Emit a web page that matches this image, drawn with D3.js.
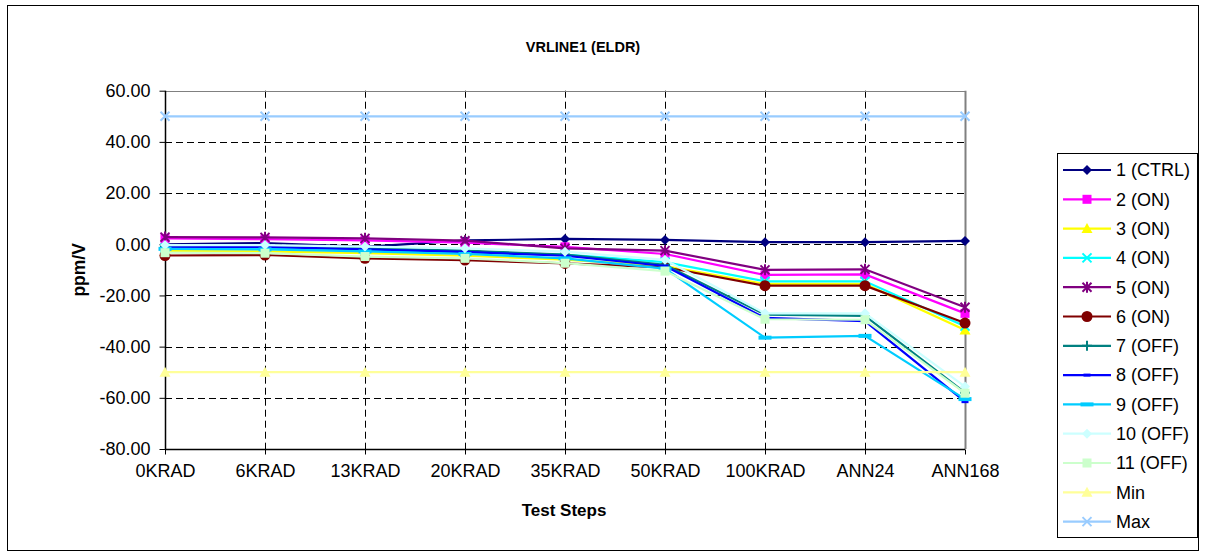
<!DOCTYPE html>
<html><head><meta charset="utf-8">
<script src="https://cdn.jsdelivr.net/npm/d3@7"></script>
<style>
html,body{margin:0;padding:0;background:#fff;}
text{font-family:"Liberation Sans",Arial,sans-serif;}
</style></head>
<body><svg id="chart" width="1206" height="558"></svg>
<script>
const categories = ["0KRAD","6KRAD","13KRAD","20KRAD","35KRAD","50KRAD","100KRAD","ANN24","ANN168"];
const yTicks = [60,40,20,0,-20,-40,-60,-80];
const seriesNames = ["1 (CTRL)","2 (ON)","3 (ON)","4 (ON)","5 (ON)","6 (ON)","7 (OFF)","8 (OFF)","9 (OFF)","10 (OFF)","11 (OFF)","Min","Max"];
const s1  = [0.0, 0.5, -1.0, 1.5, 2.1, 1.7, 0.8, 0.8, 1.3];
const s2  = [2.3, 2.0, 1.5, 0.6, -1.0, -3.8, -12.0, -11.8, -27.0];
const s3  = [-2.7, -2.8, -3.5, -4.5, -6.0, -8.5, -15.5, -15.5, -33.5];
const s4  = [-1.5, -1.5, -2.2, -3.2, -4.0, -7.0, -14.5, -14.5, -32.0];
const s5  = [2.8, 2.7, 2.3, 1.4, -1.6, -2.5, -10.0, -9.8, -24.6];
const s6  = [-4.4, -4.2, -5.5, -6.2, -7.5, -9.0, -16.2, -16.2, -30.8];
const s7  = [-0.8, -0.5, -1.5, -2.5, -4.0, -8.0, -27.5, -28.0, -58.0];
const s8  = [-1.2, -1.0, -2.0, -3.0, -4.5, -8.5, -28.8, -30.0, -61.5];
const s9  = [-1.8, -2.0, -2.8, -3.8, -5.5, -9.5, -36.5, -35.8, -60.5];
const s10 = [-0.3, -0.3, -0.9, -1.6, -2.9, -6.1, -27.0, -27.0, -55.6];
const s11 = [-3.3, -3.5, -4.8, -5.5, -7.4, -10.5, -29.3, -29.5, -58.2];
const sMin = [-50, -50, -50, -50, -50, -50, -50, -50, -50];
const sMax = [50, 50, 50, 50, 50, 50, 50, 50, 50];
const seriesValues = [s1,s2,s3,s4,s5,s6,s7,s8,s9,s10,s11,sMin,sMax];
const seriesColors = ["#000080","#FF00FF","#FFFF00","#00FFFF","#800080","#800000","#008080","#0000FF","#00CCFF","#CCFFFF","#CCFFCC","#FFFF99","#99CCFF"];
const seriesMarkers = ["diamond","square","triangle","x","star","circle","plus","dash","bar","diamond","square","triangle","x"];

const svg = d3.select("#chart");
svg.append("rect").attr("x",7.5).attr("y",5.5).attr("width",1191).attr("height",545)
  .attr("fill","#fff").attr("stroke","#000").attr("stroke-width",1);

const L=165, R=965, T=90.7, B=449;
const x = d3.scalePoint().domain(categories).range([L,R]);
const y = d3.scaleLinear().domain([-80,60]).range([B,T]);

// gridlines
const g = svg.append("g");
yTicks.filter(v=>v>-80 && v<60).forEach(v=>{
  g.append("line").attr("x1",L).attr("x2",R).attr("y1",Math.round(y(v))+0.5).attr("y2",Math.round(y(v))+0.5)
   .attr("stroke","#000").attr("stroke-width",1).attr("stroke-dasharray","7,4");
});
categories.slice(1,-1).forEach(c=>{
  g.append("line").attr("x1",Math.round(x(c))+0.5).attr("x2",Math.round(x(c))+0.5).attr("y1",T).attr("y2",B)
   .attr("stroke","#000").attr("stroke-width",1).attr("stroke-dasharray","7,4");
});
// plot frame top/right gray
g.append("line").attr("x1",L).attr("x2",R).attr("y1",Math.round(T)+0.5).attr("y2",Math.round(T)+0.5).attr("stroke","#808080");
g.append("line").attr("x1",R+0.5).attr("x2",R+0.5).attr("y1",T).attr("y2",B).attr("stroke","#808080").attr("stroke-width",2);

// axes
const fmt = d3.format(".2f");
const yAxis = d3.axisLeft(y).tickValues(yTicks).tickSize(6).tickPadding(9).tickFormat(d=>fmt(d).replace("\u2212","-"));
const ya = svg.append("g").attr("transform",`translate(${L+0.5},0)`).call(yAxis);
const xAxis = d3.axisBottom(x).tickSize(5).tickPadding(10);
const xa = svg.append("g").attr("transform",`translate(0,${Math.round(B)+0.5})`).call(xAxis);
[ya,xa].forEach(a=>{
  a.select(".domain").attr("stroke","#000").attr("stroke-width",1.5);
  a.selectAll(".tick line").attr("stroke","#000");
  a.selectAll("text").attr("font-family","Liberation Sans, Arial, sans-serif").attr("font-size",18).attr("fill","#000");
});
xa.select(".domain").attr("d",`M${L},0H${R}`);
ya.select(".domain").attr("d",`M0,${T}V${B}`);

// markers
function marker(sel, type, color, cx, cy){
  const s = 5;
  if(type==="diamond") sel.append("path").attr("d",`M${cx},${cy-s}L${cx+s},${cy}L${cx},${cy+s}L${cx-s},${cy}Z`).attr("fill",color);
  else if(type==="square") sel.append("rect").attr("x",cx-4.5).attr("y",cy-4.5).attr("width",9).attr("height",9).attr("fill",color);
  else if(type==="triangle") sel.append("path").attr("d",`M${cx},${cy-5.5}L${cx+5.5},${cy+4.5}L${cx-5.5},${cy+4.5}Z`).attr("fill",color);
  else if(type==="circle") sel.append("circle").attr("cx",cx).attr("cy",cy).attr("r",5.5).attr("fill",color);
  else if(type==="x") sel.append("path").attr("d",`M${cx-4.5},${cy-4.5}L${cx+4.5},${cy+4.5}M${cx+4.5},${cy-4.5}L${cx-4.5},${cy+4.5}`).attr("stroke",color).attr("stroke-width",2).attr("fill","none");
  else if(type==="star") sel.append("path").attr("d",`M${cx-4.5},${cy-4.5}L${cx+4.5},${cy+4.5}M${cx+4.5},${cy-4.5}L${cx-4.5},${cy+4.5}M${cx},${cy-5.5}L${cx},${cy+5.5}`).attr("stroke",color).attr("stroke-width",2).attr("fill","none");
  else if(type==="plus") sel.append("path").attr("d",`M${cx-5},${cy}L${cx+5},${cy}M${cx},${cy-5}L${cx},${cy+5}`).attr("stroke",color).attr("stroke-width",2).attr("fill","none");
  else if(type==="dash") sel.append("rect").attr("x",cx-3.5).attr("y",cy-1.5).attr("width",7).attr("height",3).attr("fill",color);
  else if(type==="bar") sel.append("rect").attr("x",cx-6.5).attr("y",cy-2).attr("width",13).attr("height",4).attr("fill",color);
}

// series
const line = d3.line().x((d,i)=>x(categories[i])).y(d=>y(d));
const sg = svg.append("g");
seriesValues.forEach((vals,k)=>{
  const gg = sg.append("g");
  gg.append("path").attr("d",line(vals)).attr("fill","none").attr("stroke",seriesColors[k]).attr("stroke-width",2.2);
  vals.forEach((v,i)=>marker(gg, seriesMarkers[k], seriesColors[k], x(categories[i]), y(v)));
});

// titles
svg.append("text").attr("x",583).attr("y",52).attr("text-anchor","middle").attr("font-weight","bold").attr("font-size",14.5).text("VRLINE1 (ELDR)");
svg.append("text").attr("x",564).attr("y",516).attr("text-anchor","middle").attr("font-weight","bold").attr("font-size",17).text("Test Steps");
svg.append("text").attr("transform",`translate(85,${(T+B)/2}) rotate(-90)`).attr("text-anchor","middle").attr("font-weight","bold").attr("font-size",17.5).text("ppm/V");

// legend
const lg = svg.append("g");
lg.append("rect").attr("x",1057.5).attr("y",153.5).attr("width",140).attr("height",384).attr("fill","#fff").attr("stroke","#000");
seriesNames.forEach((n,k)=>{
  const cy = 170 + k*29.3;
  lg.append("line").attr("x1",1063).attr("x2",1111).attr("y1",cy).attr("y2",cy).attr("stroke",seriesColors[k]).attr("stroke-width",2.2);
  marker(lg, seriesMarkers[k], seriesColors[k], 1087, cy);
  lg.append("text").attr("x",1116).attr("y",cy+6.3).attr("font-size",18).text(n);
});
</script></body></html>
